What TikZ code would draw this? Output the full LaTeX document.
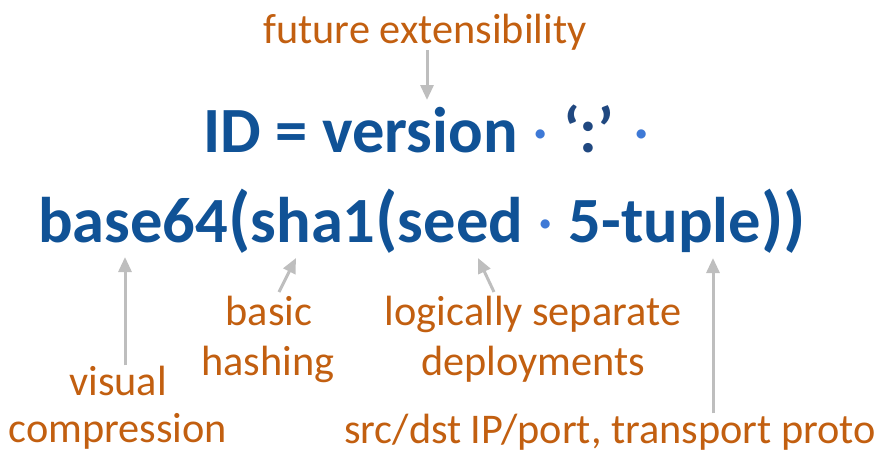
\documentclass[tikz,border=0pt]{standalone}
\usepackage{fontspec}
\setmainfont{Carlito}
\usetikzlibrary{arrows.meta}
\definecolor{idblue}{RGB}{16,82,150}
\definecolor{dotblue}{RGB}{62,121,214}
\definecolor{quoteblue}{RGB}{32,72,128}
\definecolor{noteorange}{RGB}{194,95,16}
\definecolor{arrowgray}{RGB}{190,190,190}
\newcommand{\catdot}{{\color{dotblue}\mdseries\textperiodcentered}}
\newcommand{\bigparen}[1]{{\fontsize{72}{72}\selectfont #1}}
\tikzset{
  formula/.style={text=idblue, font=\fontsize{64.5}{70}\selectfont\bfseries, inner sep=0pt, anchor=base west},
  note/.style={text=noteorange, font=\fontsize{42.3}{50}\selectfont, inner sep=0pt, anchor=base},
  pointer/.style={draw=arrowgray, line width=3pt, -{Triangle[width=13pt,length=15pt]}},
}
\begin{document}
\begin{tikzpicture}[x=1pt,y=-1pt]
\useasboundingbox (0,0) rectangle (894,469);
% The identifier formula (two lines)
\node[formula] (idline) at (203,152) {ID = version \catdot{} {\color{quoteblue}‘:’} \catdot};
\node[formula] (hashline) at (38,242) {base64\bigparen{(}sha1\bigparen{(}seed \catdot{} 5-tuple\bigparen{))}};

% Annotations
\node[note] (ext) at (425,43) {future extensibility};
\node[note] (visual) at (118,395) {visual};
\node[note] (compr) at (118,442) {compression};
\node[note] (basic) at (269,325) {basic};
\node[note] (hashing) at (268,375) {hashing};
\node[note] (logic) at (533,325) {logically separate};
\node[note] (deploy) at (533,375) {deployments};
\node[note] (tuple) at (610,443) {src/dst IP/port, transport proto};

% Arrow tips on the formula
\coordinate (verTip) at (427,100);
\coordinate (b64Tip) at (125,257);
\coordinate (shaTail) at (279,292);
\coordinate (shaTip) at (296,258);
\coordinate (seedTail) at (494,292);
\coordinate (seedTip) at (478,258);
\coordinate (tupleTip) at (713,258);

\draw[pointer] (ext.south -| verTip) -- (verTip);
\draw[pointer] (visual.north -| b64Tip) -- (b64Tip);
\draw[pointer] (shaTail) -- (shaTip);
\draw[pointer] (seedTail) -- (seedTip);
\draw[pointer] (tuple.north -| tupleTip) -- (tupleTip);
\end{tikzpicture}
\end{document}
